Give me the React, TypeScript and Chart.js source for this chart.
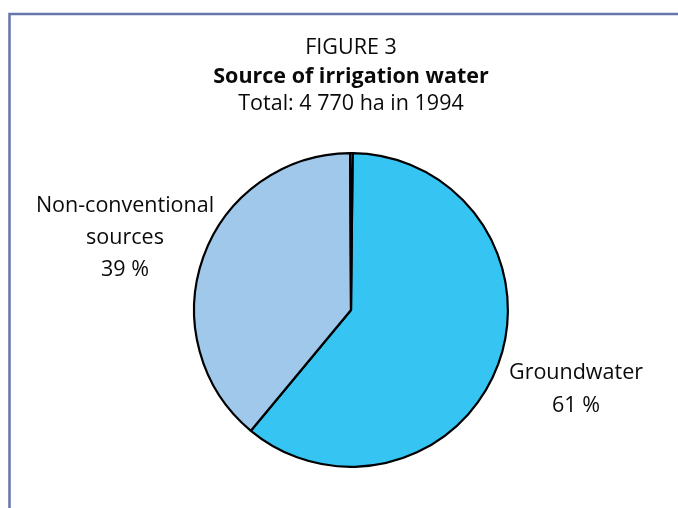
import React, { useEffect, useRef } from "react";
import { Chart, registerables } from "chart.js";

Chart.register(...registerables);

const categories = ["Groundwater", "Non-conventional sources", "Other"];
const shares = [61, 39, 0.25];
const sliceColors = ["#36C5F2", "#9FC8EA", "#FFFFFF"];
const labelLines = [["Groundwater", "61 %"], ["Non-conventional", "sources", "39 %"], []];
const labelAnchors = [
  { x: 576, y: 373, gap: 33 },
  { x: 125, y: 206, gap: 32 },
  { x: 0, y: 0, gap: 0 },
];
const titleLines = ["FIGURE 3", "Source of irrigation water", "Total: 4 770 ha in 1994"];

const FONT = '"Open Sans", "Noto Sans", sans-serif';
const SIZE = "21.5px";

const decorations = {
  id: "decorations",
  beforeDraw(chart: Chart) {
    const ctx = chart.ctx;
    ctx.save();
    ctx.fillStyle = "#ffffff";
    ctx.fillRect(0, 0, chart.width, chart.height);
    // frame
    ctx.strokeStyle = "#6776AA";
    ctx.lineWidth = 2.5;
    ctx.beginPath();
    ctx.moveTo(9.5, chart.height);
    ctx.lineTo(9.5, 14);
    ctx.lineTo(chart.width, 14);
    ctx.stroke();
    ctx.restore();
  },
  afterDraw(chart: Chart) {
    const ctx = chart.ctx;
    ctx.save();
    ctx.fillStyle = "#0a0a0a";
    ctx.textAlign = "center";
    ctx.textBaseline = "middle";
    ctx.font = `${SIZE} ${FONT}`;
    ctx.fillText(titleLines[0], 351, 48);
    ctx.font = `bold ${SIZE} ${FONT}`;
    ctx.fillText(titleLines[1], 351, 76.5);
    ctx.font = `${SIZE} ${FONT}`;
    ctx.fillText(titleLines[2], 351, 104);
    labelLines.forEach((lines, i) => {
      lines.forEach((t, j) => {
        ctx.fillText(t, labelAnchors[i].x, labelAnchors[i].y + j * labelAnchors[i].gap);
      });
    });
    ctx.restore();
  },
};

export default function App() {
  const ref = useRef<HTMLCanvasElement | null>(null);
  useEffect(() => {
    if (!ref.current) return;
    const chart = new Chart(ref.current, {
      type: "pie",
      data: {
        labels: categories,
        datasets: [
          {
            data: shares,
            backgroundColor: sliceColors,
            borderColor: "#000000",
            borderWidth: 2.2,
          },
        ],
      },
      options: {
        animation: false,
        responsive: false,
        rotation: 0.6,
        layout: { padding: { left: 193, right: 169, top: 152, bottom: 40 } },
        plugins: {
          legend: { display: false },
          tooltip: { enabled: false },
          title: { display: false },
        },
      },
      plugins: [decorations],
    });
    return () => chart.destroy();
  }, []);
  return (
    <div style={{ position: "fixed", left: 0, top: 0, width: 678, height: 508, background: "#fff" }}>
      <canvas ref={ref} width={678} height={508} style={{ display: "block" }} />
    </div>
  );
}
